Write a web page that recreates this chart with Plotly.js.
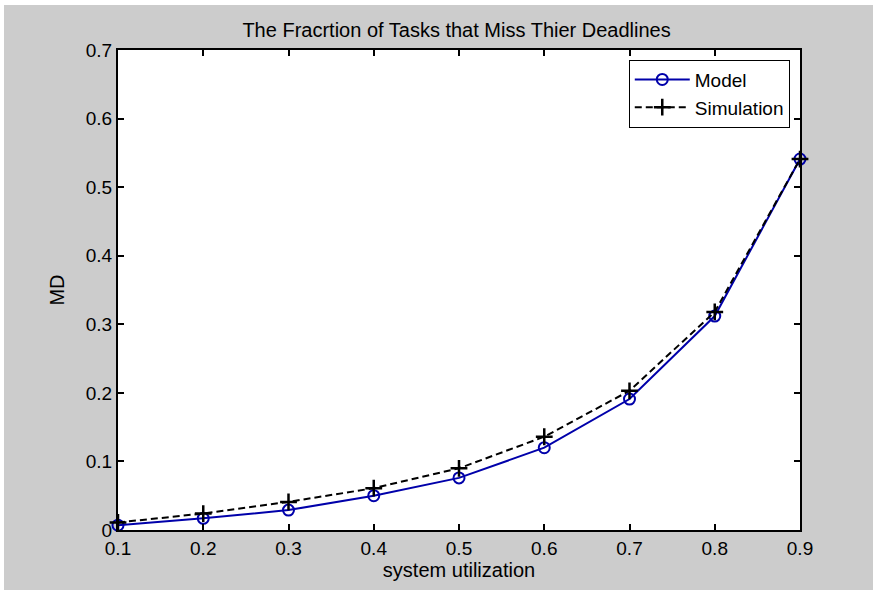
<!DOCTYPE html>
<html>
<head>
<meta charset="utf-8">
<script src="https://cdn.plot.ly/plotly-3.0.1.min.js"></script>
<style>
html,body{margin:0;padding:0;background:#ffffff;overflow:hidden;}
#chart{position:absolute;left:0;top:0;width:873px;height:590px;}
</style>
</head>
<body>
<div id="chart"></div>
<script>
const utilization = [0.1, 0.2, 0.3, 0.4, 0.5, 0.6, 0.7, 0.8, 0.9];
const modelMD = [0.007, 0.017, 0.029, 0.050, 0.076, 0.120, 0.191, 0.312, 0.541];
const simulationMD = [0.011, 0.024, 0.041, 0.061, 0.090, 0.136, 0.203, 0.318, 0.541];
const xTicks = [0.1, 0.2, 0.3, 0.4, 0.5, 0.6, 0.7, 0.8, 0.9];
const yTicks = [0, 0.1, 0.2, 0.3, 0.4, 0.5, 0.6, 0.7];

const FONT = 'Liberation Sans, Arial, sans-serif';
const W = 873, H = 590, ML = 118, MR = 73, MT = 50, MB = 60;
const PW = W - ML - MR, PH = H - MT - MB;

const traces = [
  {
    x: utilization, y: modelMD, name: 'Model', mode: 'lines+markers',
    line: {color: '#0000aa', width: 2},
    marker: {symbol: 'circle-open', size: 11, color: '#0000aa', line: {width: 2, color: '#0000aa'}},
    cliponaxis: false
  },
  {
    x: utilization, y: simulationMD, name: 'Simulation', mode: 'lines+markers',
    line: {color: '#000000', width: 2, dash: '7px,4px'},
    marker: {symbol: 'cross-thin-open', size: 12, color: '#000000', line: {width: 2.5, color: '#000000'}},
    cliponaxis: false
  }
];

const axisCommon = {
  showgrid: false, zeroline: false, showline: true, linecolor: '#000', linewidth: 2,
  mirror: 'ticks', ticks: 'inside', ticklen: 6, tickwidth: 2, tickcolor: '#000',
  tickfont: {family: FONT, size: 19, color: '#000'}
};

// white page border strips (top and left) in paper coordinates
const px = v => (v - ML) / PW;
const py = v => 1 - (v - MT) / PH;

const layout = {
  width: W, height: H,
  paper_bgcolor: '#cccccc', plot_bgcolor: '#ffffff',
  margin: {l: ML, r: MR, t: MT, b: MB},
  font: {family: FONT, color: '#000'},
  title: {text: 'The Fracrtion of Tasks that Miss Thier Deadlines', font: {family: FONT, size: 20, color: '#000'}, x: 0.523, xanchor: 'center', y: 0.95, yanchor: 'middle'},
  xaxis: Object.assign({}, axisCommon, {range: [0.1, 0.9], tickvals: xTicks, ticktext: xTicks.map(v => v.toFixed(1)),
    title: {text: 'system utilization', font: {family: FONT, size: 20, color: '#000'}, standoff: 2}}),
  yaxis: Object.assign({}, axisCommon, {range: [0, 0.7], tickvals: yTicks, ticktext: yTicks.map(v => v === 0 ? '0' : v.toFixed(1)),
    title: {text: 'MD', font: {family: FONT, size: 20, color: '#000'}, standoff: 16}}),
  shapes: [
    {type: 'rect', xref: 'paper', yref: 'paper', x0: px(0), x1: px(W), y0: py(0), y1: py(5), fillcolor: '#ffffff', line: {width: 0}, layer: 'below'},
    {type: 'rect', xref: 'paper', yref: 'paper', x0: px(0), x1: px(4), y0: py(0), y1: py(H), fillcolor: '#ffffff', line: {width: 0}, layer: 'below'}
  ],
  showlegend: true,
  legend: {x: 0.985, xanchor: 'right', y: 0.98, yanchor: 'top', bgcolor: '#ffffff', bordercolor: '#000', borderwidth: 1,
    font: {family: FONT, size: 19, color: '#000'}, tracegroupgap: 0, itemwidth: 55}
};

Plotly.newPlot('chart', traces, layout, {displayModeBar: false, staticPlot: true});
</script>
</body>
</html>
